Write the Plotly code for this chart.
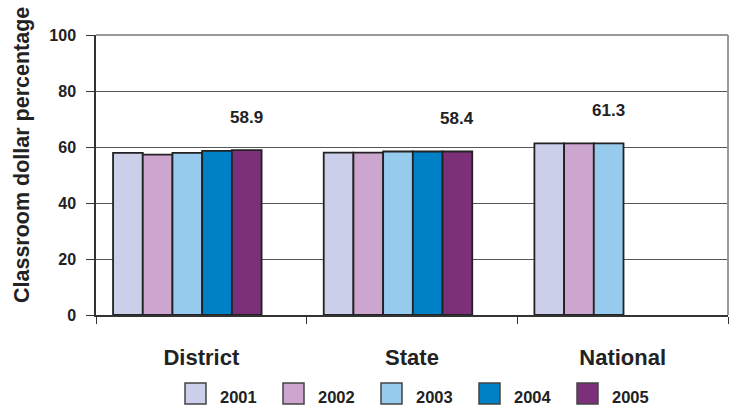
import plotly.graph_objects as go

categories = ["District", "State", "National"]
years = ["2001", "2002", "2003", "2004", "2005"]
values = {
    "2001": [57.9, 58.0, 61.3],
    "2002": [57.3, 58.0, 61.3],
    "2003": [57.9, 58.4, 61.3],
    "2004": [58.6, 58.4, None],
    "2005": [58.9, 58.4, None],
}
colors = ["#CBCFEA", "#CCA6CE", "#97CBEE", "#0080C6", "#7D307A"]
labels = [("District", "2005", "58.9"), ("State", "2005", "58.4"), ("National", "2003", "61.3")]
yticks = [0, 20, 40, 60, 80, 100]

FONT = "Liberation Sans, Arial, sans-serif"
W, H = 730, 408
ML, MR, MT, MB = 96, 2, 35, 93
PW, PH = W - ML - MR, H - MT - MB

bar_w = 0.141
start = -0.419

fig = go.Figure()
for i, y in enumerate(years):
    fig.add_trace(go.Bar(
        x=categories, y=values[y], name=y,
        width=bar_w, offset=start + i * bar_w,
        marker=dict(color=colors[i], line=dict(color="#222222", width=1.8)),
        showlegend=False,
    ))

annotations = []
for cat, yr, txt in labels:
    ci = categories.index(cat)
    si = years.index(yr)
    annotations.append(dict(
        x=ci + start + (si + 0.5) * bar_w, y=values[yr][ci], xref="x", yref="y",
        text="<b>%s</b>" % txt, showarrow=False, yshift=33,
        font=dict(family=FONT, size=17, color="#222222"),
    ))

# y-axis title
annotations.append(dict(
    x=(22 - ML) / PW, y=(MT + PH - 155) / PH, xref="paper", yref="paper",
    text="<b>Classroom dollar percentage</b>", textangle=-90, showarrow=False,
    font=dict(family=FONT, size=21.5, color="#222222"),
    xanchor="center", yanchor="middle",
))

# manual legend
shapes = []
leg_x0 = 185
leg_step = 98
box = 21
box_top = 383
for i, y in enumerate(years):
    bx = leg_x0 + i * leg_step
    shapes.append(dict(
        type="rect", xref="paper", yref="paper",
        x0=(bx - ML) / PW, x1=(bx + box - ML) / PW,
        y0=(MT + PH - box_top) / PH, y1=(MT + PH - box_top - box) / PH,
        fillcolor=colors[i], line=dict(color="#444444", width=1.5),
    ))
    annotations.append(dict(
        x=(bx + box + 12 - ML) / PW, y=(MT + PH - 397) / PH, xref="paper", yref="paper",
        text="<b>%s</b>" % y, showarrow=False, xanchor="left", yanchor="middle",
        font=dict(family=FONT, size=16.5, color="#222222"),
    ))

# plot frame (top and right)
shapes.append(dict(type="line", xref="paper", yref="paper", x0=0, x1=1, y0=1, y1=1,
                   line=dict(color="#999999", width=2)))
shapes.append(dict(type="line", xref="paper", yref="paper", x0=1, x1=1, y0=0, y1=1,
                   line=dict(color="#999999", width=2)))

fig.update_layout(
    width=W, height=H,
    margin=dict(l=ML, r=MR, t=MT, b=MB, autoexpand=False),
    paper_bgcolor="white", plot_bgcolor="white",
    barmode="overlay",
    showlegend=False,
    annotations=annotations,
    shapes=shapes,
    font=dict(family=FONT, color="#222222"),
)
fig.update_xaxes(
    type="category", range=[-0.5, 2.5], automargin=False,
    tickson="boundaries", ticks="outside", ticklen=7, tickcolor="#333333",
    showline=True, linecolor="#333333", linewidth=1.5,
    tickfont=dict(family=FONT, size=22, color="#222222"),
    tickprefix="<b>", ticksuffix="</b>",
    ticklabelstandoff=22,
    showgrid=False, zeroline=False,
)
fig.update_yaxes(
    range=[0, 100], tickvals=yticks, ticktext=["<b>%d</b>" % v for v in yticks],
    automargin=False,
    ticks="outside", ticklen=8, tickcolor="#333333",
    showline=True, linecolor="#333333", linewidth=1.5,
    showgrid=True, gridcolor="#555555", gridwidth=1,
    tickfont=dict(family=FONT, size=16, color="#222222"),
    ticklabelstandoff=7,
    zeroline=False,
)

fig.write_html(
    "out.html",
    config={"displayModeBar": False},
    post_script="document.body.style.margin='0';document.body.style.overflow='hidden';",
)
